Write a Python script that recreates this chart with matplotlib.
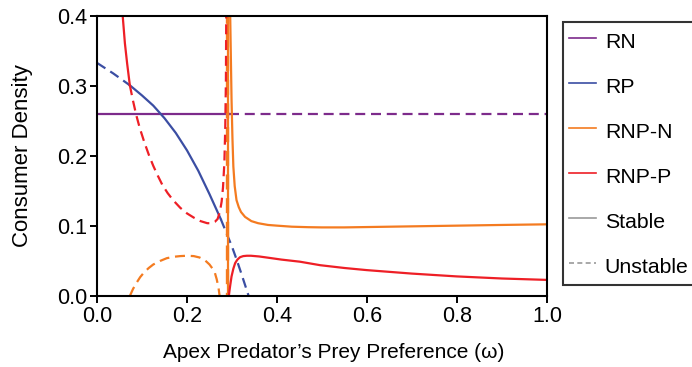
import matplotlib
matplotlib.use("Agg")
import matplotlib.pyplot as plt
from matplotlib.lines import Line2D

plt.rcParams['font.family'] = ['Liberation Sans', 'DejaVu Sans']
plt.rcParams['font.size'] = 15

# ---- data ----
rn_value = 0.26
rn_switch = 0.293

rp_x = [0.0, 0.036, 0.073, 0.1, 0.125, 0.15, 0.175, 0.2, 0.225, 0.25, 0.275, 0.3, 0.31, 0.32, 0.337]
rp_y = [0.333, 0.318, 0.301, 0.2865, 0.272, 0.254, 0.233, 0.208, 0.179, 0.1455, 0.110, 0.0705, 0.0525, 0.0335, 0.0]
rp_stable_range = (0.073, 0.275)

# RNP-N (orange)
rnpn_unst1_x = [0.073, 0.08, 0.088, 0.096, 0.105, 0.115, 0.125, 0.14, 0.155, 0.17, 0.185, 0.2, 0.215, 0.228, 0.24, 0.25, 0.258, 0.262, 0.266, 0.27, 0.2725, 0.275]
rnpn_unst1_y = [0.0, 0.01, 0.019, 0.027, 0.034, 0.040, 0.045, 0.050, 0.054, 0.056, 0.057, 0.0575, 0.057, 0.055, 0.051, 0.045, 0.038, 0.033, 0.024, 0.012, 0.0, -0.02]
rnpn_unst2_x = [0.289, 0.289]
rnpn_unst2_y = [-0.05, 0.45]
rnpn_st1_x = [0.2905, 0.2905]
rnpn_st1_y = [-0.05, 0.45]
rnpn_st2_x = [0.2945, 0.296, 0.299, 0.301, 0.303, 0.306, 0.310, 0.315, 0.320, 0.329, 0.343, 0.358, 0.38, 0.40, 0.433, 0.47, 0.5, 0.55, 0.6, 0.7, 0.8, 0.9, 1.0]
rnpn_st2_y = [0.45, 0.40, 0.28, 0.225, 0.185, 0.157, 0.137, 0.127, 0.120, 0.113, 0.107, 0.104, 0.1015, 0.1005, 0.099, 0.0983, 0.098, 0.098, 0.0985, 0.0995, 0.1005, 0.1015, 0.1024]

# RNP-P (red)
rnpp_st1_x = [0.052, 0.057, 0.062, 0.067, 0.073]
rnpp_st1_y = [0.45, 0.401, 0.361, 0.332, 0.301]
rnpp_unst_x = [0.073, 0.080, 0.087, 0.095, 0.105, 0.115, 0.125, 0.135, 0.145, 0.157, 0.169, 0.185, 0.2, 0.215, 0.23, 0.245, 0.255, 0.262, 0.268, 0.273, 0.277, 0.280, 0.283, 0.285, 0.2865, 0.2875]
rnpp_unst_y = [0.301, 0.279, 0.259, 0.240, 0.220, 0.202, 0.186, 0.172, 0.159, 0.147, 0.137, 0.126, 0.118, 0.112, 0.107, 0.104, 0.104, 0.106, 0.110, 0.120, 0.135, 0.155, 0.190, 0.240, 0.31, 0.45]
rnpp_st2_x = [0.2925, 0.293, 0.2945, 0.296, 0.299, 0.303, 0.307, 0.312, 0.318, 0.325, 0.333, 0.342, 0.36, 0.377, 0.41, 0.451, 0.496, 0.55, 0.599, 0.7, 0.799, 0.9, 1.0]
rnpp_st2_y = [-0.01, 0.0, 0.008, 0.015, 0.028, 0.039, 0.047, 0.052, 0.0555, 0.057, 0.0575, 0.0575, 0.0565, 0.055, 0.052, 0.049, 0.044, 0.040, 0.037, 0.032, 0.028, 0.025, 0.023]

x_ticks = [0.0, 0.2, 0.4, 0.6, 0.8, 1.0]
y_ticks = [0.0, 0.1, 0.2, 0.3, 0.4]
legend_labels = ['RN', 'RP', 'RNP-N', 'RNP-P', 'Stable', 'Unstable']

C_RN = '#7d2b8b'
C_RP = '#3b4ea3'
C_N = '#f47b20'
C_P = '#ee1f26'
C_G = '#999999'
LW = 1.6
DASH = (0, (4.5, 2.6))

fig = plt.figure(figsize=(6.92, 3.67), dpi=100)
ax = fig.add_axes([97/692, 1-296/367, 450/692, 280/367])

# RN
ax.plot([0.0, rn_switch], [rn_value, rn_value], color=C_RN, lw=LW)
ax.plot([rn_switch, 1.0], [rn_value, rn_value], color=C_RN, lw=LW, ls=DASH)

# RP
def split(xs, ys, lo, hi):
    a = [(x, y) for x, y in zip(xs, ys) if x <= lo]
    b = [(x, y) for x, y in zip(xs, ys) if lo <= x <= hi]
    c = [(x, y) for x, y in zip(xs, ys) if x >= hi]
    return [list(zip(*s)) for s in (a, b, c)]

seg_a, seg_b, seg_c = split(rp_x, rp_y, *rp_stable_range)
ax.plot(seg_a[0], seg_a[1], color=C_RP, lw=LW, ls=DASH)
ax.plot(seg_b[0], seg_b[1], color=C_RP, lw=LW)
ax.plot(seg_c[0], seg_c[1], color=C_RP, lw=LW, ls=DASH)

# RNP-N
ax.plot(rnpn_unst1_x, rnpn_unst1_y, color=C_N, lw=LW, ls=DASH)
ax.plot(rnpn_st1_x, rnpn_st1_y, color=C_N, lw=LW)
ax.plot(rnpn_unst2_x, rnpn_unst2_y, color=C_N, lw=LW+0.8, ls=DASH)
ax.plot(rnpn_st2_x, rnpn_st2_y, color=C_N, lw=LW)

# RNP-P
ax.plot(rnpp_st1_x, rnpp_st1_y, color=C_P, lw=LW)
ax.plot(rnpp_unst_x, rnpp_unst_y, color=C_P, lw=LW, ls=DASH)
ax.plot(rnpp_st2_x, rnpp_st2_y, color=C_P, lw=LW)

ax.set_xlim(0, 1)
ax.set_ylim(0, 0.4)
ax.set_xticks(x_ticks)
ax.set_yticks(y_ticks)
ax.set_xticklabels([f'{v:.1f}' for v in x_ticks])
ax.set_yticklabels([f'{v:.1f}' for v in y_ticks])
ax.tick_params(direction='out', length=5, width=1.4, pad=2, labelsize=15.5)
for s in ax.spines.values():
    s.set_linewidth(1.5)
    s.set_color('black')

ax.set_xlabel('Apex Predator\u2019s Prey Preference (\u03c9)', fontsize=15)
ax.xaxis.set_label_coords(0.527, -0.2)
ax.xaxis.label.set_va('center')
ax.set_ylabel('Consumer Density', fontsize=16)
ax.yaxis.set_label_coords(-0.165, 0.5)
ax.yaxis.label.set_va('center')

handles = [
    Line2D([], [], color=C_RN, lw=1.2),
    Line2D([], [], color=C_RP, lw=1.2),
    Line2D([], [], color=C_N, lw=1.2),
    Line2D([], [], color=C_P, lw=1.2),
    Line2D([], [], color=C_G, lw=1.2),
    Line2D([], [], color=C_G, lw=1.2, ls=(0, (3, 2))),
]
leg = fig.legend(handles, legend_labels, loc='upper left',
                 bbox_to_anchor=(563/692, 1-21.5/367), borderaxespad=0,
                 frameon=True, fancybox=False, edgecolor='black',
                 fontsize=15.3, handlelength=1.27, handletextpad=0.4,
                 handleheight=1.5, labelspacing=0.9, borderpad=0.3)
leg.get_frame().set_linewidth(1.5)

fig.savefig('out.png', dpi=100)
